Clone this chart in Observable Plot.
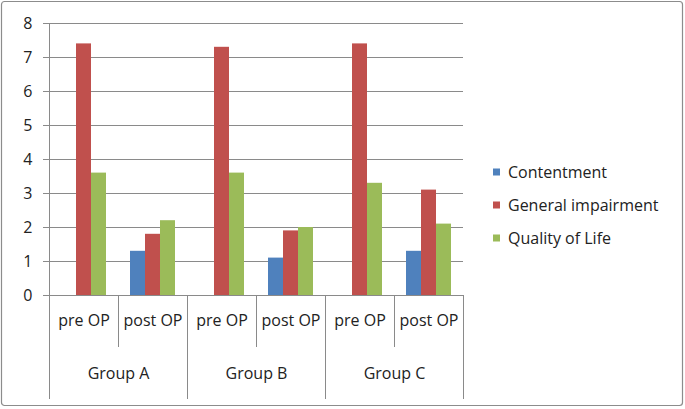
<!DOCTYPE html>
<html>
<head>
<meta charset="utf-8">
<script src="https://cdn.jsdelivr.net/npm/d3@7"></script>
<script src="https://cdn.jsdelivr.net/npm/@observablehq/plot@0.6"></script>
<style>
  html, body { margin: 0; padding: 0; background: #fff; }
  #chart { width: 685px; height: 409px; }
</style>
</head>
<body>
<div id="chart"></div>
<script>
// ---- data ----
const groups = ["Group A", "Group B", "Group C"];
const phases = ["pre OP", "post OP"];
const seriesNames = ["Contentment", "General impairment", "Quality of Life"];
// order: A pre, A post, B pre, B post, C pre, C post
const contentment       = [null, 1.3, null, 1.1, null, 1.3];
const generalImpairment = [7.4, 1.8, 7.3, 1.9, 7.4, 3.1];
const qualityOfLife     = [3.6, 2.2, 3.6, 2.0, 3.3, 2.1];
const yTicks = [0, 1, 2, 3, 4, 5, 6, 7, 8];
const seriesColors = ["#4f81bd", "#c0504d", "#9bbb59"];

// ---- table ----
const cats = [];
groups.forEach(g => phases.forEach(p => cats.push({key: g + "|" + p, group: g, phase: p})));
const keys = cats.map(c => c.key);
const seriesValues = [contentment, generalImpairment, qualityOfLife];
const rows = [];
cats.forEach((c, i) => seriesNames.forEach((s, j) => {
  const v = seriesValues[j][i];
  if (v != null) rows.push({key: c.key, group: c.group, phase: c.phase, series: s, value: v});
}));
const postCats = cats.filter(c => c.phase === "post OP");

const FONT = "'Open Sans', sans-serif";
const FS = 16;
const GRID = "#8a8a8a";
const TXT = "#222222";

const plot = Plot.plot({
  width: 685,
  height: 409,
  marginLeft: 49,
  marginRight: 222,
  marginTop: 23,
  marginBottom: 114,
  style: {fontFamily: FONT, fontSize: FS + "px", color: TXT, background: "#fff", overflow: "visible"},
  fx: {domain: keys, padding: 0, axis: null},
  x: {domain: seriesNames, paddingInner: 0, paddingOuter: 0.75, axis: null},
  y: {domain: [0, 8], ticks: yTicks, tickFormat: d => String(d), label: null,
      tickSize: 6, tickPadding: 11, grid: false},
  color: {domain: seriesNames, range: seriesColors},
  marks: [
    Plot.gridY(yTicks, {stroke: GRID, strokeOpacity: 1, strokeWidth: 1}),
    Plot.axisY(yTicks, {tickSize: 6, tickPadding: 11, stroke: GRID, strokeOpacity: 1, fill: TXT, fontSize: FS, label: null, facetAnchor: "left"}),
    Plot.barY(rows, {fx: "key", x: "series", y: "value", fill: "series"}),
    Plot.ruleY([0], {stroke: GRID, strokeWidth: 1}),
    Plot.text(cats, {fx: "key", text: "phase", frameAnchor: "bottom", dy: 30, fill: TXT, fontSize: FS}),
    Plot.text(postCats, {fx: "key", text: "group", frameAnchor: "bottom-left", textAnchor: "middle", dy: 83, fill: TXT, fontSize: FS})
  ]
});

document.getElementById("chart").appendChild(plot);

// ---- decorations through the library's scales ----
const svg = d3.select(plot);
const fxScale = plot.scale("fx");
const yScale = plot.scale("y");
const bw = fxScale.bandwidth;
const y0 = yScale.apply(0);
const yTop = yScale.apply(8);
const deco = svg.append("g").attr("stroke", GRID).attr("stroke-width", 1).attr("shape-rendering", "crispEdges");
// left axis line extends to bottom of group row
const xLeft = fxScale.apply(keys[0]);
deco.append("line").attr("x1", xLeft).attr("x2", xLeft).attr("y1", yTop).attr("y2", y0 + 104);
cats.forEach((c, i) => {
  if (i === 0) return;
  const x = fxScale.apply(c.key);
  const long = c.phase === "pre OP";
  deco.append("line").attr("x1", x).attr("x2", x).attr("y1", y0).attr("y2", y0 + (long ? 104 : 52));
});
const xRight = fxScale.apply(keys[keys.length - 1]) + bw;
deco.append("line").attr("x1", xRight).attr("x2", xRight).attr("y1", y0).attr("y2", y0 + 104);

// outer chart border
svg.append("rect").attr("x", 1.5).attr("y", 1.5).attr("width", 681).attr("height", 404)
  .attr("rx", 3).attr("fill", "none").attr("stroke", "#8c8c8c").attr("stroke-width", 1.2);

// legend
const colorScale = plot.scale("color");
const lg = svg.append("g").attr("font-family", FONT).attr("font-size", FS).attr("fill", TXT)
  .attr("text-anchor", "start");
seriesNames.forEach((s, i) => {
  const cy = 172 + i * 33;
  lg.append("rect").attr("x", 493).attr("y", cy - 3.5).attr("width", 7).attr("height", 7)
    .attr("fill", colorScale.apply(s));
  lg.append("text").attr("x", 508).attr("y", cy).attr("dy", "0.35em").attr("text-anchor", "start").text(s);
});
</script>
</body>
</html>
